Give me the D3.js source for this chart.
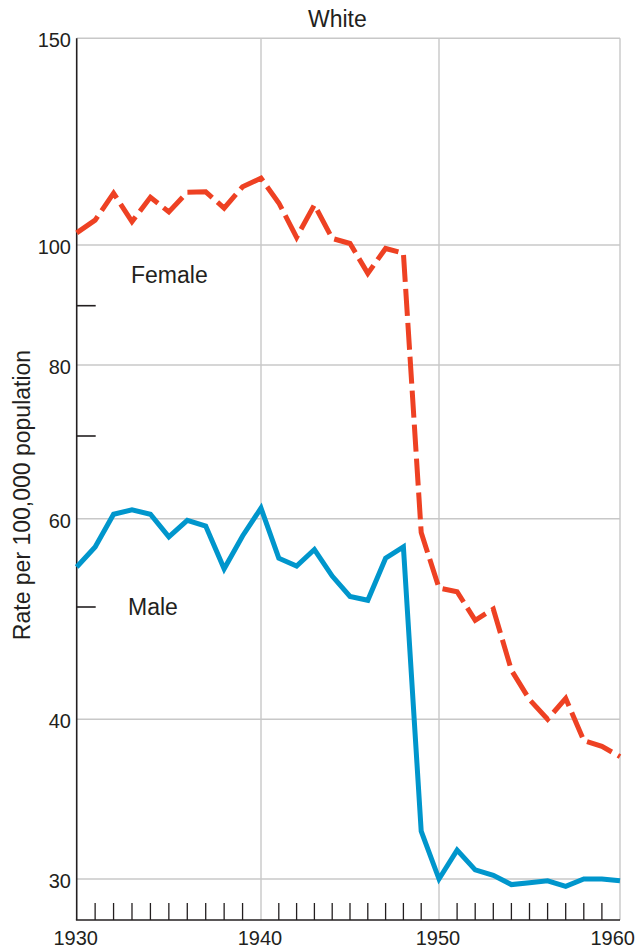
<!DOCTYPE html>
<html>
<head>
<meta charset="utf-8">
<script src="https://cdn.jsdelivr.net/npm/d3@7"></script>
<style>
  body { margin: 0; background: #fff; }
  svg { display: block; }
  text { font-family: "Liberation Sans", Arial, Helvetica, sans-serif; fill: #231f20; }
</style>
</head>
<body>
<svg id="chart" width="638" height="949"></svg>
<script>
// ---------- data ----------
const years = d3.range(1930, 1961);
const female = [102.4, 105.0, 110.7, 104.7, 109.8, 106.7, 110.9, 111.0, 107.5, 112.1,
                114.0, 108.6, 101.5, 108.2, 101.3, 100.3, 95.2, 99.4, 98.6, 58.3,
                52.0, 51.6, 48.7, 49.8, 44.1, 41.6, 40.0, 41.7, 38.5, 38.1, 37.4];
const male = [54.3, 56.6, 60.5, 61.0, 60.5, 57.8, 59.8, 59.1, 54.1, 57.9,
              61.2, 55.3, 54.4, 56.3, 53.3, 51.1, 50.7, 55.3, 56.6, 32.7,
              30.0, 31.6, 30.5, 30.2, 29.7, 29.8, 29.9, 29.6, 30.0, 30.0, 29.9];
const yTickValues = [30, 40, 60, 80, 100, 150];
const yMinorTicks = [50, 70, 90];
const xTickValues = [1930, 1940, 1950, 1960];
const seriesNames = ["Female", "Male"];
const chartTitle = "White";
const yTitle = "Rate per 100,000 population";

// ---------- scales (log axis, calibrated to the printed grid) ----------
const y = d3.scaleLog()
  .domain([27.86, 30, 40, 50, 60, 70, 80, 90, 100, 150])
  .range([920, 879, 719.3, 607, 518.7, 436, 365, 305.7, 245, 38.3]);
const x = d3.scaleLinear()
  .domain([1930, 1940, 1950, 1960])
  .range([76.7, 261, 439, 620]);

const x0 = x(1930), x1 = x(1960), yTop = y(150), yBot = 920;
const svg = d3.select("#chart");

// ---------- grid ----------
const grid = svg.append("g").attr("stroke", "#c8c8c8").attr("stroke-width", 1.4);
grid.selectAll("line.h").data(yTickValues).join("line")
  .attr("x1", x0).attr("x2", x1)
  .attr("y1", d => y(d)).attr("y2", d => y(d));
grid.selectAll("line.v").data(xTickValues.slice(1)).join("line")
  .attr("x1", d => x(d)).attr("x2", d => x(d))
  .attr("y1", yTop).attr("y2", yBot);

// ---------- axes ----------
const ax = svg.append("g").attr("stroke", "#231f20").attr("stroke-width", 1.6);
ax.append("line").attr("x1", x0).attr("x2", x0).attr("y1", yTop).attr("y2", yBot);
ax.append("line").attr("x1", x0 - 0.8).attr("x2", x1).attr("y1", yBot).attr("y2", yBot);
ax.selectAll("line.ym").data(yMinorTicks).join("line")
  .attr("x1", x0).attr("x2", x0 + 19)
  .attr("y1", d => y(d)).attr("y2", d => y(d));
ax.selectAll("line.xm").data(years.filter(yr => !xTickValues.includes(yr))).join("line")
  .attr("stroke-width", 1.3)
  .attr("x1", d => x(d)).attr("x2", d => x(d))
  .attr("y1", yBot).attr("y2", yBot - 17);

svg.append("g").selectAll("text").data(yTickValues).join("text")
  .attr("x", 71).attr("y", d => y(d) + 9)
  .attr("text-anchor", "end").attr("font-size", 20)
  .text(d => d);
svg.append("g").selectAll("text").data(xTickValues).join("text")
  .attr("x", (d, i) => i === xTickValues.length - 1 ? 635 : x(d) - 1)
  .attr("y", 945)
  .attr("text-anchor", (d, i) => i === xTickValues.length - 1 ? "end" : "middle")
  .attr("font-size", 20)
  .text(d => d);

// ---------- lines ----------
const line = d3.line().x(d => x(d.year)).y(d => y(d.v));
const maleData = years.map((yr, i) => ({year: yr, v: male[i]}));
const femaleData = years.map((yr, i) => ({year: yr, v: female[i]}));

svg.append("path").datum(maleData)
  .attr("fill", "none").attr("stroke", "#0096cc").attr("stroke-width", 5)
  .attr("d", line);
svg.append("path").datum(femaleData)
  .attr("fill", "none").attr("stroke", "#ee4123").attr("stroke-width", 5)
  .attr("stroke-dasharray", "27,7")
  .attr("d", line);

// ---------- labels ----------
svg.append("text").attr("x", 308).attr("y", 27).attr("font-size", 23).text(chartTitle);
svg.append("text").attr("x", 131).attr("y", 283).attr("font-size", 23).text(seriesNames[0]);
svg.append("text").attr("x", 128).attr("y", 615).attr("font-size", 23).text(seriesNames[1]);
svg.append("text")
  .attr("transform", "translate(30,495) rotate(-90)")
  .attr("text-anchor", "middle").attr("font-size", 23)
  .text(yTitle);
</script>
</body>
</html>
